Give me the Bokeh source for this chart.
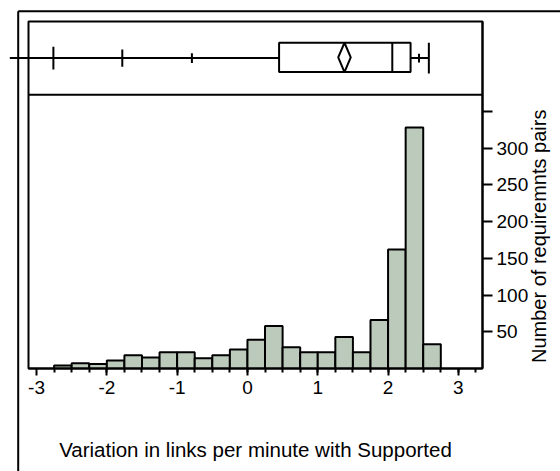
import math
from bokeh.plotting import figure
from bokeh.models import Range1d, FixedTicker, Span
from bokeh.core.properties import value
from bokeh.embed import file_html
from bokeh.resources import INLINE

# ---- histogram data (bin width 0.25) ----
bin_edges = [-2.75, -2.5, -2.25, -2.0, -1.75, -1.5, -1.25, -1.0, -0.75, -0.5, -0.25,
             0.0, 0.25, 0.5, 0.75, 1.0, 1.25, 1.5, 1.75, 2.0, 2.25, 2.5, 2.75]
counts = [4, 7, 6, 11, 18, 15, 22, 22, 14, 18, 26,
          39, 58, 29, 22, 22, 43, 22, 66, 162, 328, 33]

# ---- box plot summary ----
box_q1 = 0.45
box_median = 2.06
box_q3 = 2.32
box_mean = 1.38
whisker_low = -3.38
whisker_high = 2.58
quantile_marks = [-2.76, -1.78, -0.79, 2.44]
quantile_half = [0.155, 0.118, 0.068, 0.06]

# ---- axes ----
x_ticks = [-3, -2, -1, 0, 1, 2, 3]
x_labels = ["-3", "-2", "-1", "0", "1", "2", "3"]
x_minor = [-2.75 + 0.25 * i for i in range(25)]
y_ticks = [50, 100, 150, 200, 250, 300, 350]
y_labels = ["50", "100", "150", "200", "250", "300", ""]
x_title = "Variation in links per minute with Supported"
y_title = "Number of requiremnts pairs"

FONT = "Liberation Sans"
BAR = "#bccabc"

p = figure(width=560, height=471,
           x_range=Range1d(-3.114, 3.343), y_range=Range1d(0, 472.5),
           y_axis_location="right", output_backend="svg", toolbar_location=None,
           min_border_left=28, min_border_top=21, min_border_right=78,
           min_border_bottom=103)
p.grid.visible = False
p.outline_line_color = "black"
p.outline_line_width = 2
p.outline_line_alpha = 1
p.background_fill_color = "white"
p.border_fill_color = "white"
p.extra_y_ranges = {"box": Range1d(-3.738, 1)}

# x axis
xa = p.xaxis[0]
xa.ticker = FixedTicker(ticks=x_ticks, minor_ticks=x_minor)
xa.major_label_overrides = {t: l for t, l in zip(x_ticks, x_labels)}
xa.axis_line_width = 2
xa.axis_line_color = "black"
xa.major_tick_line_width = 2
xa.minor_tick_line_width = 2
xa.major_tick_out = 7
xa.major_tick_in = 0
xa.minor_tick_out = 4
xa.minor_tick_in = 0
xa.major_label_text_font = FONT
xa.major_label_text_font_size = "19px"
xa.major_label_text_color = "black"
xa.major_label_standoff = 5
xa.axis_label = x_title
xa.axis_label_text_font = FONT
xa.axis_label_text_font_size = "20.5px"
xa.axis_label_text_font_style = "normal"
xa.axis_label_text_color = "black"
xa.axis_label_standoff = 41

# y axis (right)
ya = p.yaxis[0]
ya.ticker = FixedTicker(ticks=y_ticks, minor_ticks=[])
ya.major_label_overrides = {t: l for t, l in zip(y_ticks, y_labels)}
ya.axis_line_width = 2
ya.axis_line_color = "black"
ya.major_tick_line_width = 2
ya.major_tick_out = 10
ya.major_tick_in = 0
ya.minor_tick_out = 0
ya.minor_tick_in = 0
ya.major_label_text_font = FONT
ya.major_label_text_font_size = "19px"
ya.major_label_text_color = "black"
ya.major_label_standoff = 4

# y title, rotated to read bottom-to-top, beside the histogram panel
yt = p.text(x=[4.15], y=[180], text=[y_title], angle=math.pi / 2,
            text_align="center", text_baseline="middle",
            text_font=value(FONT), text_font_size="20px", text_color="black")
yt.level = "overlay"

# histogram
p.quad(left=bin_edges[:-1], right=bin_edges[1:], bottom=0, top=counts,
       fill_color=BAR, line_color="black", line_width=2)

# panel divider
p.add_layout(Span(location=0, dimension="width", y_range_name="box",
                  line_color="black", line_width=2))

# box plot
yc = 0.5
p.segment(x0=[box_q3], y0=[yc], x1=[whisker_high], y1=[yc], y_range_name="box",
          line_color="black", line_width=2)
wl = p.segment(x0=[whisker_low], y0=[yc], x1=[box_q1], y1=[yc], y_range_name="box",
               line_color="black", line_width=2)
wl.level = "overlay"
p.quad(left=[box_q1], right=[box_q3], bottom=[0.31], top=[0.71], y_range_name="box",
       fill_color="white", line_color="black", line_width=2)
p.segment(x0=[box_median], y0=[0.31], x1=[box_median], y1=[0.71], y_range_name="box",
          line_color="black", line_width=2)
dw = 0.089
p.patch(x=[box_mean - dw, box_mean, box_mean + dw, box_mean],
        y=[0.51, 0.71, 0.51, 0.31], y_range_name="box",
        fill_color="white", line_color="black", line_width=2)
p.segment(x0=quantile_marks, y0=[yc - h for h in quantile_half],
          x1=quantile_marks, y1=[yc + h for h in quantile_half], y_range_name="box",
          line_color="black", line_width=2)
p.segment(x0=[whisker_high], y0=[yc - 0.21], x1=[whisker_high], y1=[yc + 0.21],
          y_range_name="box", line_color="black", line_width=2)

# outer frame (left and top edges)
of = p.segment(x0=[-3.2605, -3.2605], y0=[486.4, 486.4], x1=[-3.2605, 4.6], y1=[-150, 486.4],
               line_color="black", line_width=2)
of.level = "overlay"

open("out.html", "w").write(file_html(p, INLINE))
